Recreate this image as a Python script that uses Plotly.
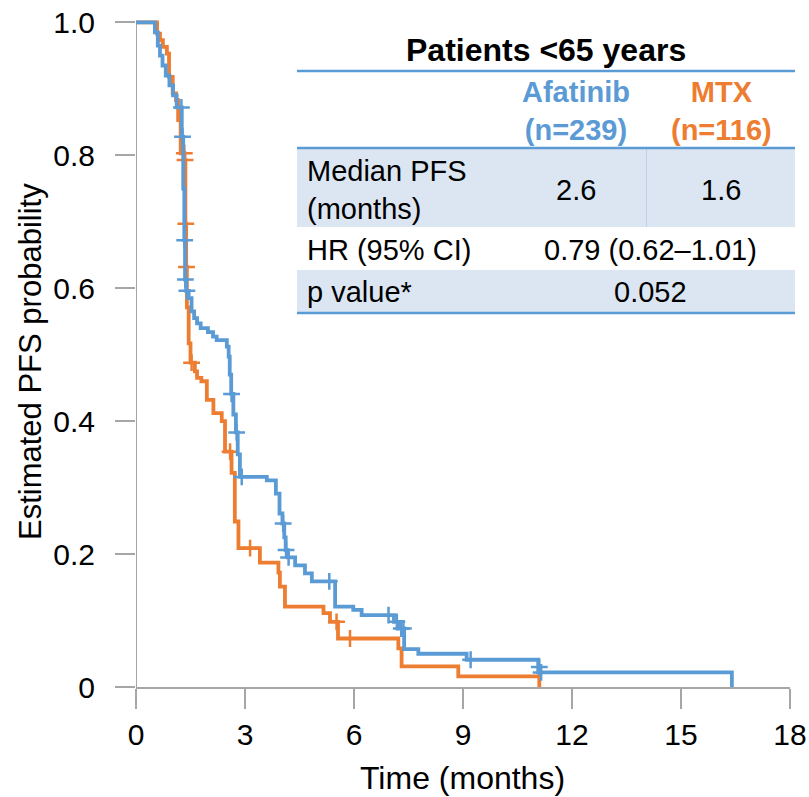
import plotly.graph_objects as go

# Kaplan-Meier step coordinates: progression-free survival by arm
afatinib_t = [0, 0.52, 0.60, 0.66, 0.73, 0.82, 0.92, 1.02, 1.12, 1.26, 1.30, 1.33, 1.35, 1.38,
              1.45, 1.53, 1.60, 1.68, 1.78, 1.98, 2.12, 2.22, 2.50, 2.55, 2.58, 2.62, 2.68,
              2.75, 2.80, 2.86, 3.60, 3.85, 3.95, 4.03, 4.08, 4.12, 4.18, 4.38, 4.65, 4.84,
              5.48, 5.98, 6.21, 7.10, 7.22, 7.38, 7.77, 9.10, 11.07, 16.40]
afatinib_s = [1.0, 0.985, 0.965, 0.95, 0.935, 0.92, 0.905, 0.89, 0.872, 0.828, 0.75, 0.672,
              0.613, 0.596, 0.585, 0.565, 0.555, 0.547, 0.540, 0.534, 0.527, 0.522, 0.512,
              0.497, 0.47, 0.441, 0.41, 0.383, 0.35, 0.316, 0.311, 0.291, 0.261, 0.246, 0.225,
              0.206, 0.195, 0.183, 0.171, 0.159, 0.121, 0.116, 0.108, 0.098, 0.088, 0.057,
              0.050, 0.041, 0.022, 0.0]

mtx_t = [0, 0.58, 0.66, 0.74, 0.85, 0.91, 1.01, 1.10, 1.16, 1.23, 1.33, 1.36, 1.38, 1.40,
         1.45, 1.50, 1.62, 1.68, 1.80, 1.95, 2.13, 2.36, 2.45, 2.63, 2.72, 2.82, 3.41, 3.92,
         3.96, 4.10, 5.16, 5.34, 5.56, 7.22, 7.31, 8.87, 11.10]
mtx_s = [1.0, 0.983, 0.973, 0.963, 0.953, 0.918, 0.893, 0.883, 0.853, 0.803, 0.793, 0.697,
         0.632, 0.571, 0.517, 0.488, 0.475, 0.465, 0.46, 0.432, 0.412, 0.40, 0.354, 0.322,
         0.249, 0.209, 0.187, 0.172, 0.151, 0.121, 0.111, 0.098, 0.073, 0.058, 0.031, 0.016,
         0.0]

# Censored observations
afatinib_cens_t = [1.25, 1.28, 1.34, 1.36, 1.40, 2.63, 2.77, 2.91, 4.05, 4.13, 4.20, 5.32,
                   6.95, 7.18, 7.30, 7.36, 9.21, 11.10, 11.15]
afatinib_cens_s = [0.872, 0.828, 0.672, 0.613, 0.596, 0.441, 0.383, 0.316, 0.246, 0.206,
                   0.195, 0.159, 0.108, 0.098, 0.088, 0.088, 0.041, 0.03, 0.022]
mtx_cens_t = [1.33, 1.35, 1.37, 1.39, 1.53, 2.59, 3.14, 5.52, 5.89]
mtx_cens_s = [0.803, 0.793, 0.697, 0.632, 0.488, 0.354, 0.209, 0.098, 0.073]

x_ticks = [0, 3, 6, 9, 12, 15, 18]
y_ticks = [0, 0.2, 0.4, 0.6, 0.8, 1.0]
y_tick_text = ["0", "0.2", "0.4", "0.6", "0.8", "1.0"]

BLUE = "#5b9bd5"
ORANGE = "#ed7d31"
GREY = "#a6a6a6"
FILL = "#dce6f2"
FONT = "Liberation Sans, Arial, sans-serif"

# Figure geometry (pixels)
W, H = 809, 797
ML, MR, MT, MB = 136, 19, 17, 110
PW, PH = W - ML - MR, H - MT - MB


def xp(px):
    return (px - ML) / PW


def yp(py):
    return (H - MB - py) / PH


fig = go.Figure()

for t, s, ct, cs, col, name in [
    (mtx_t, mtx_s, mtx_cens_t, mtx_cens_s, ORANGE, "MTX"),
    (afatinib_t, afatinib_s, afatinib_cens_t, afatinib_cens_s, BLUE, "Afatinib"),
]:
    fig.add_trace(go.Scatter(x=t, y=s, mode="lines", line=dict(color=col, width=3.8, shape="hv"),
                             name=name, showlegend=False, hoverinfo="skip"))
    fig.add_trace(go.Scatter(x=ct, y=cs, mode="markers", cliponaxis=False,
                             marker=dict(symbol="cross-thin", size=12, line=dict(color=col, width=2.5)),
                             showlegend=False, hoverinfo="skip"))

shapes = []
# y axis line drawn from 0 to 1
shapes.append(dict(type="line", xref="x", yref="y", x0=0, x1=0, y0=0, y1=1.0,
                   line=dict(color=GREY, width=2), layer="below"))

# Results table
shapes += [
    dict(type="rect", xref="paper", yref="paper", x0=xp(297), x1=xp(795), y0=yp(149), y1=yp(227),
         fillcolor=FILL, line=dict(width=0), layer="below"),
    dict(type="rect", xref="paper", yref="paper", x0=xp(297), x1=xp(795), y0=yp(270), y1=yp(312),
         fillcolor=FILL, line=dict(width=0), layer="below"),
    dict(type="line", xref="paper", yref="paper", x0=xp(646.5), x1=xp(646.5), y0=yp(149), y1=yp(227),
         line=dict(color="#bcd2ea", width=1)),
]
for y in (71, 148, 313):
    shapes.append(dict(type="line", xref="paper", yref="paper", x0=xp(297), x1=xp(795),
                       y0=yp(y), y1=yp(y), line=dict(color=BLUE, width=2.5)))

ann = []


def txt(s, px, py, size=29, color="black", bold=False, xanchor="center", **kw):
    ann.append(dict(text=f"<b>{s}</b>" if bold else s, x=xp(px), y=yp(py), xref="paper", yref="paper",
                    xanchor=xanchor, yanchor="middle", showarrow=False,
                    font=dict(family=FONT, size=size, color=color), **kw))


txt("Patients &lt;65 years", 546, 50, size=32, bold=True)
txt("Afatinib<br>(n=239)", 576, 111, color=BLUE, bold=True)
txt("MTX<br>(n=116)", 721, 111, color=ORANGE, bold=True)
txt("Median PFS<br>(months)", 305, 190, xanchor="left", align="left")
txt("2.6", 576, 190)
txt("1.6", 721, 190)
txt("HR (95% CI)", 305, 250, xanchor="left")
txt("0.79 (0.62–1.01)", 650, 250)
txt("p value*", 305, 292, xanchor="left")
txt("0.052", 650, 292)

# Axis titles
txt("Time (months)", 462, 778, size=32)
txt("Estimated PFS probability", 30, 362, size=31, textangle=-90)

fig.update_layout(
    width=W, height=H,
    margin=dict(l=ML, r=MR, t=MT, b=MB, pad=0, autoexpand=False),
    paper_bgcolor="white", plot_bgcolor="white",
    font=dict(family=FONT, size=30, color="black"),
    shapes=shapes, annotations=ann,
    xaxis=dict(range=[0, 18], tickvals=x_ticks, showgrid=False, zeroline=False,
               showline=True, linecolor=GREY, linewidth=2, automargin=False,
               ticks="outside", ticklen=20, tickwidth=2, tickcolor=GREY,
               tickfont=dict(size=30), ticklabelstandoff=0),
    yaxis=dict(range=[0, 1.008], tickvals=y_ticks, ticktext=y_tick_text, showgrid=False,
               zeroline=False, showline=False, automargin=False,
               ticks="outside", ticklen=20, tickwidth=2, tickcolor=GREY,
               tickfont=dict(size=30), ticklabelstandoff=14),
)

fig.write_html("out.html")
